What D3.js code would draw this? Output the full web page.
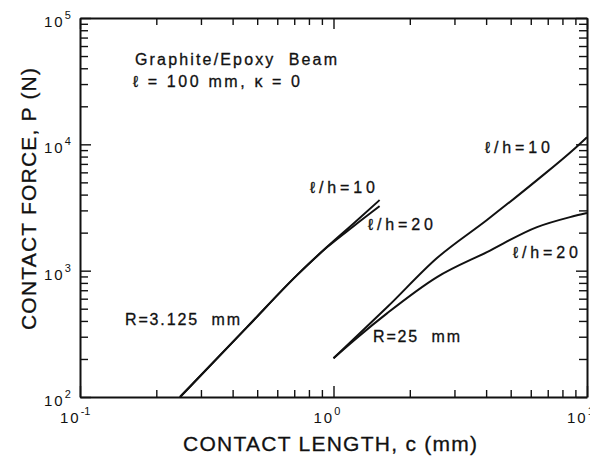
<!DOCTYPE html>
<html>
<head>
<meta charset="utf-8">
<script src="https://cdn.jsdelivr.net/npm/d3@7"></script>
<style>
  body { margin: 0; background: #fff; }
  text { font-family: "Liberation Sans", Arial, Helvetica, sans-serif; fill: #111; }
</style>
</head>
<body>
<div id="chart"></div>
<script>
// DATA
var xTickExps = [-1, 0, 1];
var yTickExps = [2, 3, 4, 5];

// R = 3.125 mm
var cSmall = [0.248, 0.456, 0.718, 0.942, 1.2, 1.52];
var pSmallH10 = [100, 357, 922, 1538, 2365, 3620];
var pSmallH20 = [100, 357, 922, 1530, 2250, 3240];

// R = 25 mm
var cLargeH10 = [1.0, 1.24, 1.63, 2.56, 4.03, 6.35, 8.81, 10];
var pLargeH10 = [203, 305, 515, 1259, 2520, 5210, 9020, 11400];
var cLargeH20 = [1.0, 1.24, 1.63, 2.56, 4.03, 6.35, 8.57, 10];
var pLargeH20 = [203, 295, 461, 889, 1403, 2213, 2655, 2860];

var w = 590;
var h = 458;
// plot box (note: "top" is reserved on window, so use prefixed names)
var pLeft = 80, pRight = 587, pTop = 18, pBottom = 397;

var svg = d3.select("#chart").append("svg")
            .attr("width", w)
            .attr("height", h);

var x = d3.scaleLog().domain([0.1, 10]).range([pLeft, pRight]);
var y = d3.scaleLog().domain([100, 100000]).range([pBottom, pTop]);

var isMajor = (d) => Math.abs(Math.log10(d) - Math.round(Math.log10(d))) < 1e-6;

// AXES (ticks point inward on all four sides)
var xTicks = x.ticks();
var yTicks = y.ticks();

function styleAxis(g) {
  g.select(".domain").attr("stroke", "#111").attr("stroke-width", 2);
  g.selectAll(".tick line").attr("stroke", "#111").attr("stroke-width", 1.4);
}

svg.append("g")
   .attr("transform", "translate(0," + pBottom + ")")
   .call(d3.axisBottom(x).tickValues(xTicks).tickFormat("").tickSizeOuter(0))
   .call(styleAxis)
   .selectAll(".tick line").attr("y2", (d) => isMajor(d) ? -11 : -7);

svg.append("g")
   .attr("transform", "translate(0," + pTop + ")")
   .call(d3.axisTop(x).tickValues(xTicks).tickFormat("").tickSizeOuter(0))
   .call(styleAxis)
   .selectAll(".tick line").attr("y2", (d) => isMajor(d) ? 11 : 7);

svg.append("g")
   .attr("transform", "translate(" + pLeft + ",0)")
   .call(d3.axisLeft(y).tickValues(yTicks).tickFormat("").tickSizeOuter(0))
   .call(styleAxis)
   .selectAll(".tick line").attr("x2", (d) => isMajor(d) ? 11 : 8);

svg.append("g")
   .attr("transform", "translate(" + pRight + ",0)")
   .call(d3.axisRight(y).tickValues(yTicks).tickFormat("").tickSizeOuter(0))
   .call(styleAxis)
   .selectAll(".tick line").attr("x2", (d) => isMajor(d) ? -11 : -8);

// tick labels as 10 with superscript
var xLab = svg.selectAll("text.xlab")
              .data(xTickExps)
              .enter()
              .append("text")
              .attr("class", "xlab")
              .attr("x", (d) => x(Math.pow(10, d)) - 20)
              .attr("y", pBottom + 26)
              .attr("font-size", 15)
              .attr("letter-spacing", 2);
xLab.append("tspan").text("10");
xLab.append("tspan").attr("dy", -8).attr("font-size", 11).attr("letter-spacing", 0)
    .text((d) => d);

var yLab = svg.selectAll("text.ylab")
              .data(yTickExps)
              .enter()
              .append("text")
              .attr("class", "ylab")
              .attr("x", 44)
              .attr("y", (d) => y(Math.pow(10, d)) + 9)
              .attr("font-size", 15)
              .attr("letter-spacing", 2);
yLab.append("tspan").text("10");
yLab.append("tspan").attr("dy", -8).attr("font-size", 11).attr("letter-spacing", 0)
    .text((d) => d);

// axis titles
svg.append("text")
   .attr("x", 183)
   .attr("y", 451)
   .attr("font-size", 21)
   .attr("stroke", "#111")
   .attr("stroke-width", 0.3)
   .attr("textLength", 294)
   .attr("lengthAdjust", "spacing")
   .text("CONTACT LENGTH, c (mm)");

svg.append("text")
   .attr("transform", "translate(36,330) rotate(-90)")
   .attr("font-size", 21)
   .attr("stroke", "#111")
   .attr("stroke-width", 0.3)
   .attr("textLength", 262)
   .attr("lengthAdjust", "spacing")
   .text("CONTACT FORCE, P (N)");

// CURVES
var line = d3.line()
             .x((d) => x(d[0]))
             .y((d) => y(d[1]))
             .curve(d3.curveMonotoneX);

var curves = [
  d3.zip(cSmall, pSmallH10),
  d3.zip(cSmall, pSmallH20),
  d3.zip(cLargeH10, pLargeH10),
  d3.zip(cLargeH20, pLargeH20)
];

svg.selectAll("path.curve")
   .data(curves)
   .enter()
   .append("path")
   .attr("class", "curve")
   .attr("d", line)
   .attr("fill", "none")
   .attr("stroke", "#111")
   .attr("stroke-width", 2);

// ANNOTATIONS
var notes = [
  {t: "Graphite/Epoxy  Beam", x: 135, y: 65, len: 202},
  {t: "\u2113 = 100 mm, \u03ba = 0", x: 133, y: 87, len: 167},
  {t: "\u2113/h=10", x: 310, y: 193, len: 65},
  {t: "\u2113/h=20", x: 368, y: 230, len: 65},
  {t: "\u2113/h=10", x: 485, y: 153, len: 65},
  {t: "\u2113/h=20", x: 513, y: 258, len: 65},
  {t: "R=3.125  mm", x: 125, y: 325, len: 115},
  {t: "R=25  mm", x: 373, y: 342, len: 87}
];

svg.selectAll("text.note")
   .data(notes)
   .enter()
   .append("text")
   .attr("class", "note")
   .attr("x", (d) => d.x)
   .attr("y", (d) => d.y)
   .attr("font-size", 16)
   .attr("stroke", "#111")
   .attr("stroke-width", 0.3)
   .attr("textLength", (d) => d.len)
   .attr("lengthAdjust", "spacing")
   .style("white-space", "pre")
   .text((d) => d.t);
</script>
</body>
</html>
